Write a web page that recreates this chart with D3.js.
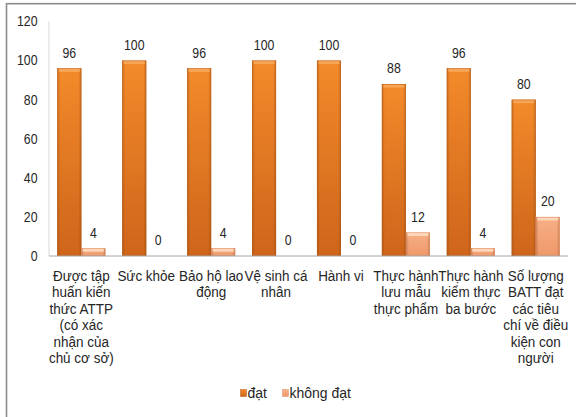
<!DOCTYPE html>
<html>
<head>
<meta charset="utf-8">
<script src="https://cdn.jsdelivr.net/npm/d3@7"></script>
<style>
  html, body { margin: 0; padding: 0; background: #fff; }
  svg { display: block; }
  text { font-family: "Liberation Sans", Arial, sans-serif; fill: #262626; }
</style>
</head>
<body>
<svg id="chart" width="576" height="417"></svg>
<script>
const categories = [
  "Được tập\nhuấn kiến\nthức ATTP\n(có xác\nnhận của\nchủ cơ sở)",
  "Sức khỏe",
  "Bảo hộ lao\nđộng",
  "Vệ sinh cá\nnhân",
  "Hành vi",
  "Thực hành\nlưu mẫu\nthực phẩm",
  "Thực hành\nkiểm thực\nba bước",
  "Số lượng\nBATT đạt\ncác tiêu\nchí về điều\nkiện con\nngười"
];
const seriesNames = ["đạt", "không đạt"];
const datValues = [96, 100, 96, 100, 100, 88, 96, 80];
const khongDatValues = [4, 0, 4, 0, 0, 12, 4, 20];
const yTicks = [0, 20, 40, 60, 80, 100, 120];

const svg = d3.select("#chart");
const defs = svg.append("defs");

function makeGrad(id, stops, horizontal) {
  const g = defs.append("linearGradient").attr("id", id)
    .attr("x1", 0).attr("y1", 0)
    .attr("x2", horizontal ? 1 : 0).attr("y2", horizontal ? 0 : 1);
  stops.forEach(s => g.append("stop").attr("offset", s[0]).attr("stop-color", s[1]).attr("stop-opacity", s[2] == null ? 1 : s[2]));
}
makeGrad("gDat", [[0, "#F38A2A"], [1, "#CE651B"]]);
makeGrad("gKhong", [[0, "#F8B086"], [1, "#EE986A"]]);
makeGrad("gEdge", [[0, "#7a3a08", 0.35], [0.12, "#7a3a08", 0.0], [0.88, "#7a3a08", 0.0], [1, "#7a3a08", 0.35]], true);

// outer border
svg.append("rect").attr("x", 6.5).attr("y", 3.7).attr("width", 600).attr("height", 500)
  .attr("fill", "none").attr("stroke", "#8c8c8c").attr("stroke-width", 1.6);

const x = d3.scaleBand().domain(d3.range(categories.length)).range([48.85, 568.2]);
const xs = d3.scaleBand().domain([0, 1]).range([0, x.bandwidth()]).paddingInner(0).paddingOuter(0.352);
const y = d3.scaleLinear().domain([0, 120]).range([256, 21.5]);

const NUM_SCALE = 0.88;
const CAT_SCALE = 0.87;

// y axis line
svg.append("line").attr("x1", 49).attr("x2", 49).attr("y1", y(120)).attr("y2", y(0))
  .attr("stroke", "#D9D9D9").attr("stroke-width", 1);

// y tick labels
svg.append("g").selectAll("text").data(yTicks).join("text")
  .attr("transform", d => `translate(37.5,${y(d)}) scale(${NUM_SCALE},1)`)
  .attr("dy", "0.35em")
  .attr("text-anchor", "end").style("font-size", "14px").text(d => d);

const series = [datValues, khongDatValues];
const fills = ["url(#gDat)", "url(#gKhong)"];
const strokes = ["#B85C18", "#E39066"];
const tops = ["#F7A85A", "#FDDCC0"];

series.forEach((vals, si) => {
  const g = svg.append("g");
  const bw = xs.bandwidth();
  vals.forEach((v, i) => {
    const bx = x(i) + xs(si);
    const by = y(v);
    const h = y(0) - by;
    if (h > 0) {
      g.append("rect").attr("x", bx).attr("y", by).attr("width", bw).attr("height", h)
        .attr("fill", fills[si]);
      g.append("rect").attr("x", bx).attr("y", by).attr("width", bw).attr("height", h)
        .attr("fill", "url(#gEdge)");
      g.append("rect").attr("x", bx + 1.5).attr("y", by + 0.5).attr("width", bw - 3).attr("height", Math.min(3, h - 0.5))
        .attr("fill", tops[si]).attr("opacity", 0.9);
      g.append("rect").attr("x", bx + 0.25).attr("y", by + 0.25).attr("width", bw - 0.5).attr("height", Math.max(0, h - 0.5))
        .attr("fill", "none").attr("stroke", strokes[si]).attr("stroke-width", 0.5);
    }
    g.append("text")
      .attr("transform", `translate(${bx + bw / 2},${by - 15.5}) scale(${NUM_SCALE},1)`)
      .attr("dy", "0.35em")
      .attr("text-anchor", "middle").style("font-size", "14px").text(v);
  });
});

// baseline
svg.append("line").attr("x1", 49).attr("x2", 568.2).attr("y1", y(0)).attr("y2", y(0))
  .attr("stroke", "#A6A6A6").attr("stroke-width", 1);

// category labels
const lab = svg.append("g").selectAll("text").data(categories).join("text")
  .attr("text-anchor", "middle").style("font-size", "15.5px")
  .attr("transform", (d, i) => `translate(${x(i) + x.bandwidth() / 2},281) scale(${CAT_SCALE},1)`);
lab.each(function (d) {
  const t = d3.select(this);
  d.split("\n").forEach((line, k) => {
    t.append("tspan").attr("x", 0).attr("y", k * 16.4).text(line);
  });
});

// legend
const leg = svg.append("g");
const legX = [240.5, 282.5];
seriesNames.forEach((name, i) => {
  leg.append("rect").attr("x", legX[i]).attr("y", 389.5).attr("width", 6).attr("height", 7)
    .attr("fill", fills[i]).attr("stroke", strokes[i]).attr("stroke-width", 0.5);
  leg.append("text").attr("x", legX[i] + 7).attr("y", 393.5).attr("dy", "0.35em")
    .style("font-size", "14px").text(name);
});
</script>
</body>
</html>
